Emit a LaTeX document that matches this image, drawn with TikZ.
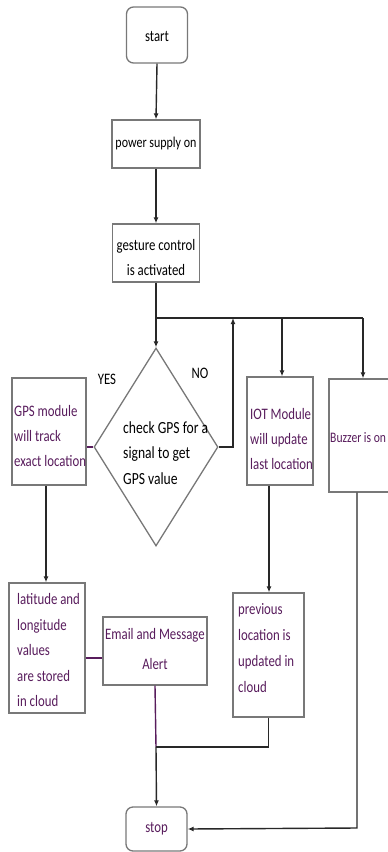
\documentclass[tikz,border=0pt]{standalone}
\usepackage{fontspec}
\setmainfont[FakeStretch=0.8]{Carlito}
\usetikzlibrary{arrows.meta,shapes.geometric,calc}
\definecolor{ink}{RGB}{88,28,92}
\definecolor{frame}{RGB}{120,120,120}
\definecolor{wire}{RGB}{40,40,40}
\tikzset{
  box/.style={draw=frame,line width=1.3pt,inner sep=0pt},
  term/.style={box,rounded corners=7pt},
  txt/.style={inner sep=0pt,align=left,font=\fontsize{16}{25}\selectfont},
  flow/.style={draw=wire,line width=1.4pt,-{Latex[length=6pt,width=5pt]}},
  link/.style={draw=wire,line width=1.4pt},
  plink/.style={draw=ink,line width=1.4pt},
}
\begin{document}
\begin{tikzpicture}[x=1pt,y=-1pt]
\useasboundingbox (0,0) rectangle (388,852);

% terminals and process boxes
\node[term,minimum width=61pt,minimum height=56pt] (start) at (157,35) {};
\node[txt] (startT) at (157,36) {start};
\node[box,minimum width=88pt,minimum height=48pt] (power) at (156,144) {};
\node[txt,font=\fontsize{15}{25}\selectfont] (powerT) at (156,143) {power supply on};
\node[box,minimum width=87pt,minimum height=58pt] (gest) at (156,253) {};
\node[txt,align=center] (gestT) at (156,257) {gesture control\\is activated};

% decision
\node[draw=frame,line width=1.3pt,diamond,inner sep=0pt,minimum width=124pt,minimum height=198pt] (chk) at (156,447) {};
\node[txt,anchor=west,font=\fontsize{17}{25.5}\selectfont] (chkT) at (123,453) {check GPS for a\\signal to get\\GPS value};
\node[txt] (yes) at (107,379) {YES};
\node[txt] (no) at (200,373) {NO};

% left branch
\node[box,minimum width=74pt,minimum height=107pt] (gps) at (49,431.5) {};
\node[txt,anchor=west,text=ink] (gpsT) at (14,436) {GPS module\\will track\\exact location};
\node[box,minimum width=76pt,minimum height=130pt] (lat) at (47,648) {};
\node[txt,anchor=west,text=ink,font=\fontsize{16}{25.5}\selectfont] (latT) at (17,650) {latitude and\\longitude\\values\\are stored\\in cloud};
\node[box,minimum width=104pt,minimum height=68pt] (mail) at (155,651) {};
\node[txt,align=center,text=ink,font=\fontsize{16}{30}\selectfont] (mailT) at (155,649) {Email and Message\\Alert};

% right branches
\node[box,minimum width=66pt,minimum height=108pt] (iot) at (280,431) {};
\node[txt,anchor=west,text=ink] (iotT) at (250,439) {IOT Module\\will update\\last location};
\node[box,minimum width=70pt,minimum height=113pt] (buz) at (364,435.5) {};
\node[txt,anchor=west,text=ink,font=\fontsize{14.5}{25}\selectfont] (buzT) at (330,438) {Buzzer is on};
\node[box,minimum width=71pt,minimum height=124pt] (prev) at (268.5,655) {};
\node[txt,anchor=west,text=ink,font=\fontsize{16}{26.3}\selectfont] (prevT) at (238,648) {previous\\location is\\updated in\\cloud};

% end
\node[term,minimum width=61pt,minimum height=44pt] (stop) at (156.5,829) {};
\node[txt,text=ink] (stopT) at (156.5,829) {stop};

% junction points
\coordinate (jL) at (156,318);
\coordinate (jR) at (363,318);
\coordinate (jNo) at (233,318);
\coordinate (jIot) at (282,318);
\coordinate (jEnd) at (156,747);

% main trunk
\draw[flow] (start.south) -- (power.north);
\draw[flow] (power.south) -- (gest.north);
\draw[flow] (gest.south) -- (chk.north);
\draw[link] (jL) -- (jR);

% NO loop back to the bus
\draw[flow] (chk.east) -- (chk.east -| jNo) -- (jNo);

% bus drops
\draw[flow] (jIot) -- (jIot |- iot.north);
\draw[flow] (jR) -- (buz.north -| jR);

% YES side
\draw[plink] (chk.west) -- (chk.west -| gps.east);
\draw[flow] (gps.south -| 46,0) -- (lat.north -| 46,0);
\draw[plink] (lat.east |- 0,658) -- (mail.west |- 0,658);

% IOT side
\draw[flow] (iot.south -| 269,0) -- (prev.north -| 269,0);

% into stop
\draw[plink] (mail.south) -- (jEnd);
\draw[flow] (jEnd) -- (stop.north);
\draw[link] (prev.south) -- (prev.south |- jEnd) -- (jEnd);
\draw[flow] (buz.south -| 357,0) -- (357,828) -- (stop.east);
\end{tikzpicture}
\end{document}
